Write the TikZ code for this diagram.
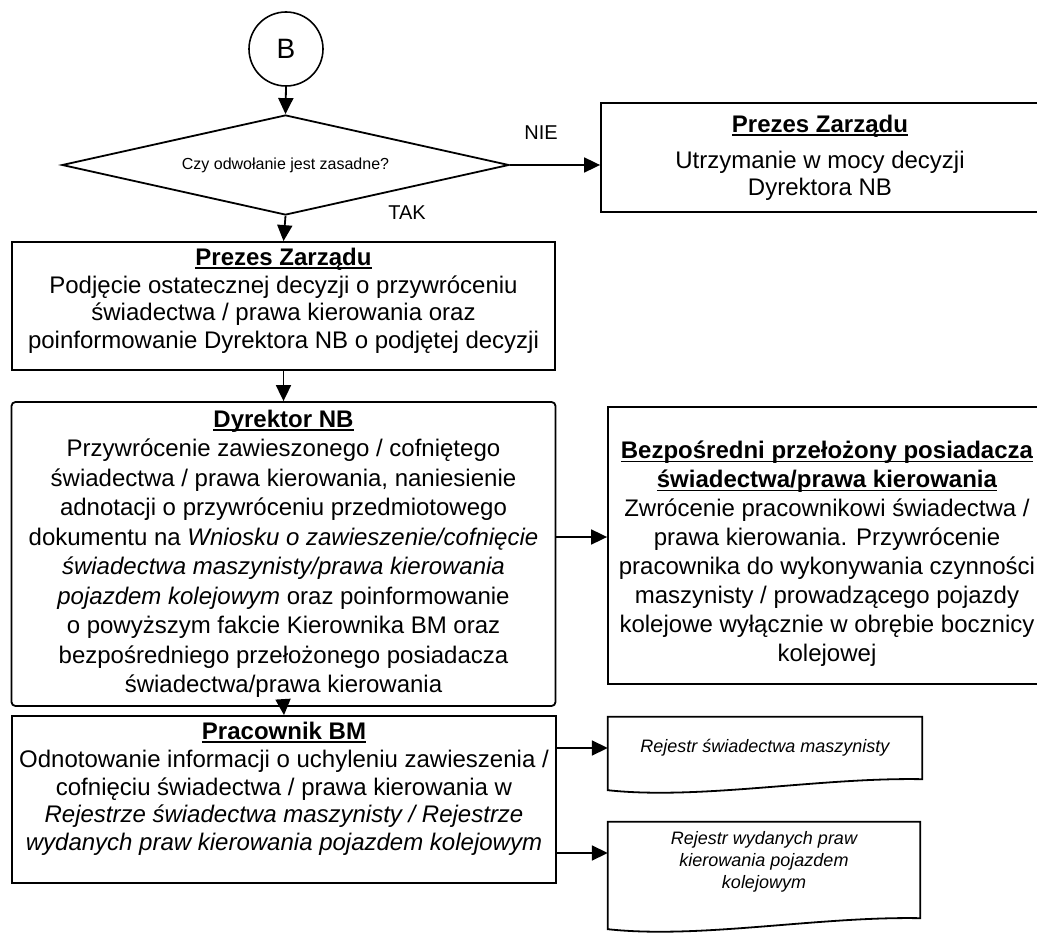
\documentclass[tikz,border=0pt]{standalone}
\usepackage{fontspec}
\setmainfont{Liberation Sans}
\usetikzlibrary{shapes.geometric,arrows.meta,calc}
\newsavebox\tulbox
\newcommand{\tul}[1]{\sbox\tulbox{#1}\rlap{\rule[-3.5pt]{\wd\tulbox}{1.8pt}}\usebox\tulbox}
\newcommand{\lift}[2]{\raisebox{#1}[\height][\depth]{\begin{tabular}{@{}c@{}}#2\end{tabular}}}
\begin{document}
\begin{tikzpicture}[x=1pt,y=-1pt,
  box/.style={draw, line width=1.8pt, rectangle, inner sep=0pt, align=center, font=\fontsize{24}{28.5}\selectfont},
  doc/.style={rectangle, inner sep=0pt, align=center, font=\fontsize{18}{22}\selectfont\itshape},
  docline/.style={line width=1.8pt},
  arr/.style={line width=1.8pt, -{Triangle[length=16pt,width=15pt]}},
  lbl/.style={font=\fontsize{20}{24}\selectfont, inner sep=0pt}]
\useasboundingbox (0,0) rectangle (1037,933);
\clip (0,0) rectangle (1037,933);

\node[draw, circle, line width=1.6pt, minimum size=74pt, inner sep=0pt, font=\fontsize{28}{30}\selectfont] (b) at (286,49) {B};
\node[draw, diamond, aspect=4.47, minimum width=447pt, minimum height=100pt, inner sep=0pt, line width=1.8pt, font=\fontsize{16}{19}\selectfont] (q) at (285.5,165) {Czy odwołanie jest zasadne?};

\node[box, minimum width=543pt, minimum height=128pt, font=\fontsize{24}{27.5}\selectfont] (p1) at (283.5,306)
 {\lift{4.5pt}{\tul{\textbf{Prezes Zarządu}}\\ Podjęcie ostatecznej decyzji o przywróceniu\\ świadectwa / prawa kierowania oraz\\ poinformowanie Dyrektora NB o podjętej decyzji}};

\node[box, rounded corners=4pt, minimum width=544pt, minimum height=304pt, font=\fontsize{24}{29.5}\selectfont] (dy) at (283.5,554)
 {\tul{\textbf{Dyrektor NB}}\\ Przywrócenie zawieszonego / cofniętego\\ świadectwa / prawa kierowania, naniesienie\\ adnotacji o przywróceniu przedmiotowego\\ dokumentu na \textit{Wniosku o zawieszenie/cofnięcie}\\ \textit{świadectwa maszynisty/prawa kierowania}\\ \textit{pojazdem kolejowym} oraz poinformowanie\\ o powyższym fakcie Kierownika BM oraz\\ bezpośredniego przełożonego posiadacza\\ świadectwa/prawa kierowania};

\node[box, minimum width=438pt, minimum height=109pt, font=\fontsize{24}{27}\selectfont] (nie) at (820,157.5)
 {\tul{\textbf{Prezes Zarządu}}\\[9pt] Utrzymanie w mocy decyzji\\ Dyrektora NB};

\node[box, minimum width=438pt, minimum height=277pt, font=\fontsize{24}{29}\selectfont] (bez) at (827,545.5)
 {\lift{-9pt}{\tul{\textbf{Bezpośredni przełożony posiadacza}}\\ \tul{\textbf{świadectwa/prawa kierowania}}\\ Zwrócenie pracownikowi świadectwa /\\ prawa kierowania. Przywrócenie\\ pracownika do wykonywania czynności\\ maszynisty / prowadzącego pojazdy\\ kolejowe wyłącznie w obrębie bocznicy\\ kolejowej}};

\node[box, minimum width=544pt, minimum height=167pt, font=\fontsize{24}{27.75}\selectfont] (pr) at (284,799.5)
 {\lift{10pt}{\tul{\textbf{Pracownik BM}}\\ Odnotowanie informacji o uchyleniu zawieszenia /\\ cofnięciu świadectwa / prawa kierowania w\\ \textit{Rejestrze świadectwa maszynisty / Rejestrze}\\ \textit{wydanych praw kierowania pojazdem kolejowym}}};

\node[doc, minimum width=314pt, minimum height=62pt] (d1) at (765,748) {Rejestr świadectwa maszynisty};
\node[doc, minimum width=312pt, minimum height=96pt] (d2) at (764,870) {\lift{8pt}{Rejestr wydanych praw\\ kierowania pojazdem\\ kolejowym}};

\draw[docline] (d1.north west) -- (d1.north east) -- (d1.south east)
  .. controls ($(d1.south east)+(-102,-2)$) and ($(d1.south west)+(92,21)$) .. ($(d1.south west)+(0,11)$) -- cycle;
\draw[docline] (d2.north west) -- (d2.north east) -- (d2.south east)
  .. controls ($(d2.south east)+(-102,-2)$) and ($(d2.south west)+(92,21)$) .. ($(d2.south west)+(0,11)$) -- cycle;

\node[lbl] (nielbl) at (541,133) {NIE};
\node[lbl] (taklbl) at (407,213) {TAK};

\coordinate (y537) at (0,537);
\coordinate (y853) at (0,853);

\draw[arr] (b.south) -- (q.north);
\draw[arr] (q.south) -- (p1.north);
\draw[arr] (q.east) -- (q.east -| nie.west);
\draw[arr] (p1.south) -- (dy.north);
\draw[arr] (dy.south) -- (pr.north);
\draw[arr] (dy.east |- y537) -- (bez.west |- y537);
\draw[arr] (pr.east |- d1.west) -- (d1.west);
\draw[arr] (pr.east |- y853) -- (d2.west |- y853);
\end{tikzpicture}
\end{document}
